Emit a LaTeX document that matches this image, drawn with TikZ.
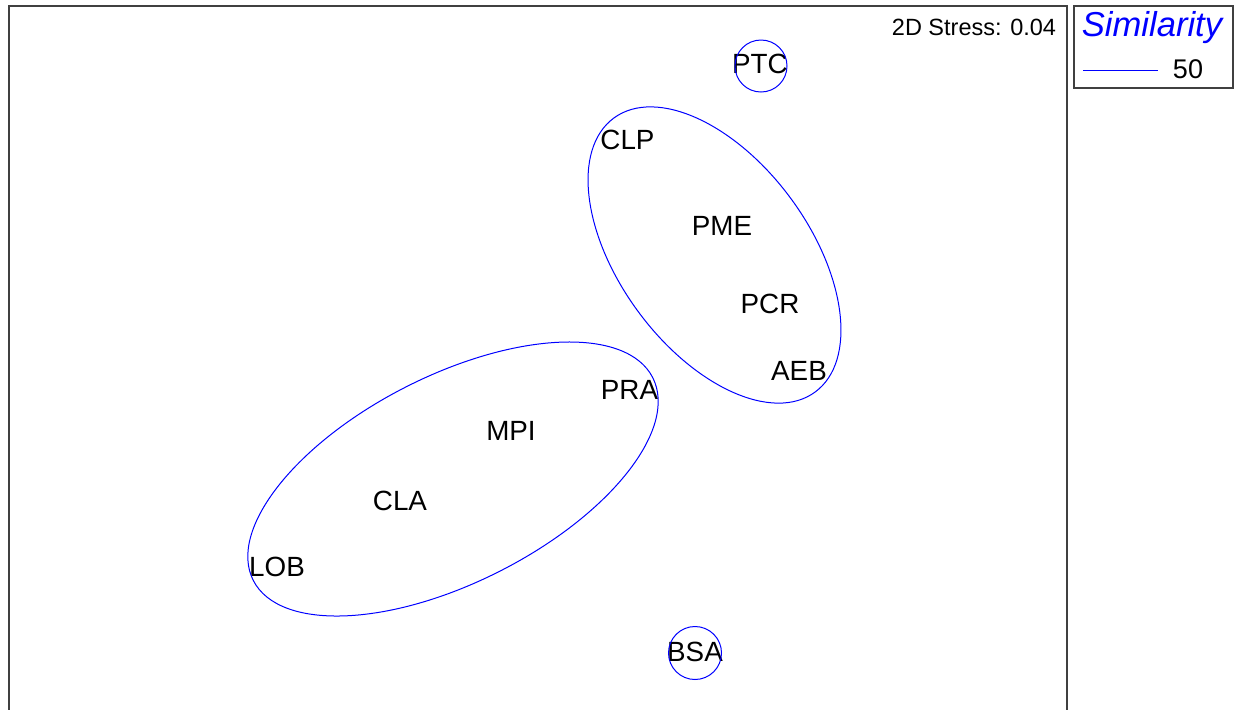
\documentclass[tikz,border=0pt]{standalone}
\usepackage{fontspec}
\setmainfont{Liberation Sans}

\begin{document}
\begin{tikzpicture}[x=0.5pt,y=-0.5pt,
                    lbl/.style={inner sep=0pt,font=\fontsize{13.9}{16}\selectfont},
                    clus/.style={draw=blue,line width=0.5pt}]
                    \useasboundingbox (0,0) rectangle (1238,709);
                    % frame and legend
                    \draw[line width=0.75pt,black!75](9,712)--(9,6)--(1067,6)--(1067,712);
                    \draw[line width=0.75pt,black!75](1074,6) rectangle (1233,88);
                    \node[inner sep=0pt,font=\fontsize{11.75}{14}\selectfont](stress) at (974,27.5){2D Stress: 0.04};
                    \node[inner sep=0pt,anchor=base,text=blue,font=\fontsize{17.3}{20}\selectfont\itshape](sim) at (1152,36){Similarity};
                    \coordinate (l1) at (1083,70);
                    \coordinate (l2) at (1158,70);
                    \draw[clus](l1)--(l2);
                    \node[inner sep=0pt,font=\fontsize{13.5}{16}\selectfont](fifty) at (1188,69){50};
                    % samples
                    \node[lbl](PTC) at (760,64){PTC};
                    \node[lbl](CLP) at (627.5,140){CLP};
                    \node[lbl](PME) at (722,226){PME};
                    \node[lbl](PCR) at (770,304){PCR};
                    \node[lbl](AEB) at (799,371){AEB};
                    \node[lbl](PRA) at (629.5,390){PRA};
                    \node[lbl](MPI) at (511,431){MPI};
                    \node[lbl](CLA) at (400,501){CLA};
                    \node[lbl](LOB) at (277,567){LOB};
                    \node[lbl](BSA) at (695,651.5){BSA};
                    % similarity 50 contours
                    \draw[clus](761,66) circle[radius=26];
                    \draw[clus](695,653) circle[radius=26.5];
                    \draw[clus,rotate around={-53.7:(714.5,255)}](714.5,255) ellipse[x radius=170,y radius=95];
                    \draw[clus,rotate around={26.9:(453,479)}](453,479) ellipse[x radius=224,y radius=103.4];
                \end{tikzpicture}
\end{document}
